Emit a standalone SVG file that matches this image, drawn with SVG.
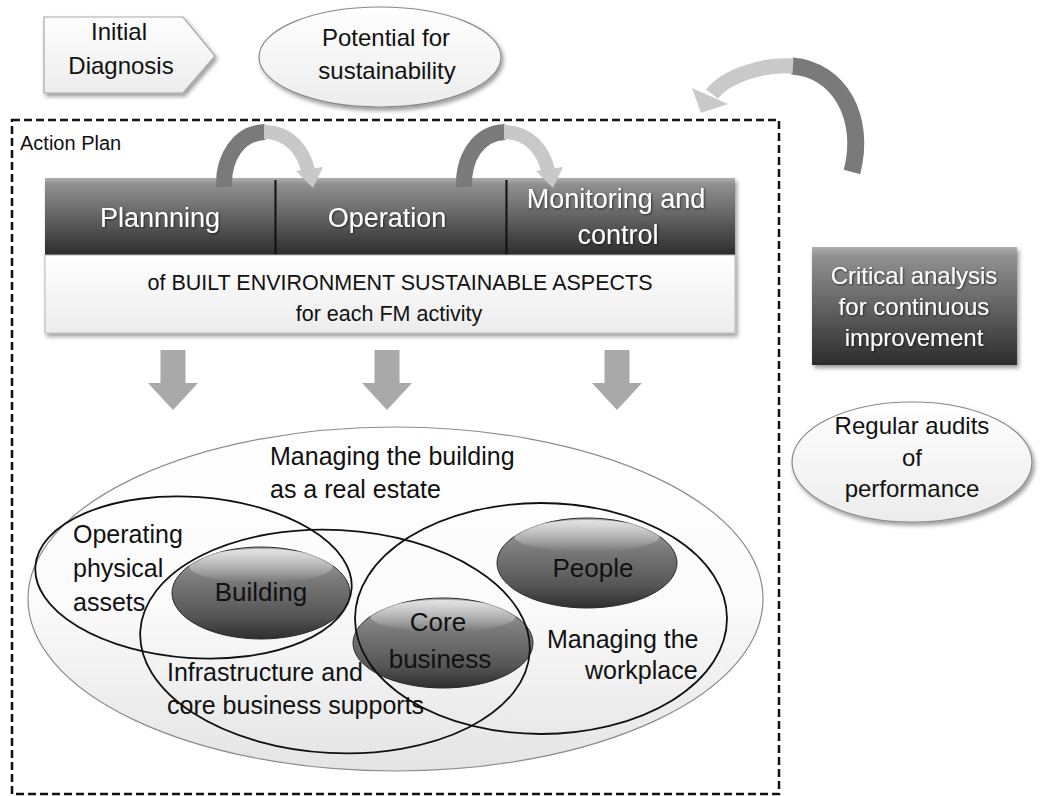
<svg xmlns="http://www.w3.org/2000/svg" width="1040" height="796" viewBox="0 0 1040 796">
  <style>
    text { font-family: "Liberation Sans", Arial, sans-serif; fill: #111; }
    .w { fill: #ffffff; }
    .c { text-anchor: middle; }
    .f24 { font-size: 24px; }
    .f25 { font-size: 25px; }
    .f27 { font-size: 27px; }
    .venn { fill: none; stroke: #111; stroke-width: 1.8; }
    .down { fill: #a9a9a9; }
  </style>
  <defs>
    <linearGradient id="darkG" x1="0" y1="0" x2="0" y2="1">
      <stop offset="0" stop-color="#b0b0b0"/>
      <stop offset="0.08" stop-color="#909090"/>
      <stop offset="0.55" stop-color="#5e5e5e"/>
      <stop offset="1" stop-color="#2c2c2c"/>
    </linearGradient>
    <linearGradient id="lightG" x1="0" y1="0" x2="0" y2="1">
      <stop offset="0" stop-color="#ffffff"/>
      <stop offset="1" stop-color="#ececec"/>
    </linearGradient>
    <linearGradient id="bigG" x1="0" y1="0" x2="0" y2="1">
      <stop offset="0" stop-color="#ffffff"/>
      <stop offset="0.5" stop-color="#fbfbfb"/>
      <stop offset="1" stop-color="#e4e4e4"/>
    </linearGradient>
    <linearGradient id="ballG" x1="0" y1="0" x2="0" y2="1">
      <stop offset="0" stop-color="#a8a8a8"/>
      <stop offset="0.35" stop-color="#7a7a7a"/>
      <stop offset="0.75" stop-color="#565656"/>
      <stop offset="1" stop-color="#2e2e2e"/>
    </linearGradient>
    <linearGradient id="gloss" x1="0" y1="0" x2="0" y2="1">
      <stop offset="0" stop-color="#ffffff" stop-opacity="0.7"/>
      <stop offset="1" stop-color="#ffffff" stop-opacity="0"/>
    </linearGradient>
    <filter id="sh" x="-10%" y="-10%" width="125%" height="140%">
      <feDropShadow dx="2" dy="3" stdDeviation="2" flood-color="#000" flood-opacity="0.4"/>
    </filter>
    <filter id="tsh" x="-5%" y="-20%" width="115%" height="150%">
      <feDropShadow dx="1" dy="1" stdDeviation="0.8" flood-color="#000" flood-opacity="0.6"/>
    </filter>
  </defs>

  <rect width="1040" height="796" fill="#ffffff"/>

  <!-- Initial Diagnosis -->
  <g id="initial-diagnosis">
    <polygon points="44,17 183,17 215,56 183,93 44,93" fill="url(#lightG)" stroke="#a8a8a8" stroke-width="1.2" filter="url(#sh)"/>
    <text class="c f24" x="119" y="40">Initial</text>
    <text class="c f24" x="121" y="74">Diagnosis</text>
  </g>

  <!-- Potential for sustainability -->
  <g id="potential">
    <ellipse cx="380" cy="57" rx="121" ry="50" fill="url(#lightG)" stroke="#8a8a8a" stroke-width="1.2" filter="url(#sh)"/>
    <text class="c f24" x="386" y="46">Potential for</text>
    <text class="c f24" x="387" y="79">sustainability</text>
  </g>

  <!-- Action plan frame -->
  <g id="action-plan">
    <rect x="12" y="120" width="767" height="674" fill="none" stroke="#111" stroke-width="2.5" stroke-dasharray="8,4"/>
    <text x="20" y="150" style="font-size:20px">Action Plan</text>
  </g>

  <!-- Phase bar -->
  <g id="planning">
    <rect x="45" y="178" width="230" height="77" fill="url(#darkG)" filter="url(#sh)"/>
    <text class="c f27 w" x="160" y="227" filter="url(#tsh)">Plannning</text>
  </g>
  <g id="operation">
    <rect x="275" y="178" width="231" height="77" fill="url(#darkG)" filter="url(#sh)"/>
    <line x1="275.5" y1="180" x2="275.5" y2="255" stroke="#111" stroke-width="2"/>
    <text class="c f27 w" x="387" y="227" filter="url(#tsh)">Operation</text>
  </g>
  <g id="monitoring">
    <rect x="506" y="178" width="229" height="77" fill="url(#darkG)" filter="url(#sh)"/>
    <line x1="506.5" y1="180" x2="506.5" y2="255" stroke="#111" stroke-width="2"/>
    <text class="c f27 w" x="616" y="208" filter="url(#tsh)">Monitoring and</text>
    <text class="c f27 w" x="618" y="244" filter="url(#tsh)">control</text>
  </g>

  <g id="built-environment">
    <rect x="45" y="255" width="690" height="78" fill="url(#lightG)" stroke="#b8b8b8" stroke-width="1" filter="url(#sh)"/>
    <text class="c" x="400" y="290" style="font-size:21.5px">of BUILT ENVIRONMENT SUSTAINABLE ASPECTS</text>
    <text class="c" x="389" y="321" style="font-size:21.5px">for each FM activity</text>
  </g>

  <!-- Critical analysis -->
  <g id="critical-analysis">
    <rect x="812" y="247" width="205" height="118" fill="url(#darkG)" filter="url(#sh)"/>
    <text class="c f24 w" x="914" y="284" filter="url(#tsh)">Critical analysis</text>
    <text class="c f24 w" x="914" y="315" filter="url(#tsh)">for continuous</text>
    <text class="c f24 w" x="914" y="346" filter="url(#tsh)">improvement</text>
  </g>

  <!-- Regular audits -->
  <g id="regular-audits">
    <ellipse cx="912" cy="462" rx="120" ry="60" fill="url(#lightG)" stroke="#8a8a8a" stroke-width="1.2" filter="url(#sh)"/>
    <text class="c f24" x="912" y="434">Regular audits</text>
    <text class="c f24" x="912" y="466">of</text>
    <text class="c f24" x="912" y="497">performance</text>
  </g>

  <!-- Venn diagram -->
  <g id="real-estate">
    <ellipse cx="395.5" cy="599" rx="367.5" ry="172" fill="url(#bigG)" stroke="#8c8c8c" stroke-width="1.2"/>
    <text class="f25" x="270" y="465">Managing the building</text>
    <text class="f25" x="270" y="498">as a real estate</text>
  </g>
  <g id="building">
    <ellipse cx="261" cy="593" rx="89" ry="46" fill="url(#ballG)" stroke="#2a2a2a" stroke-width="1"/>
    <ellipse cx="261" cy="566" rx="72" ry="17" fill="url(#gloss)"/>
    <text class="c" x="261" y="601" style="font-size:26px">Building</text>
  </g>
  <g id="people">
    <ellipse cx="587" cy="563" rx="90" ry="45" fill="url(#ballG)" stroke="#2a2a2a" stroke-width="1"/>
    <ellipse cx="587" cy="536" rx="73" ry="16" fill="url(#gloss)"/>
    <text class="c" x="593" y="577" style="font-size:26px">People</text>
  </g>
  <g id="core-business">
    <ellipse cx="443" cy="643" rx="90" ry="45" fill="url(#ballG)" stroke="#2a2a2a" stroke-width="1"/>
    <ellipse cx="443" cy="616" rx="73" ry="16" fill="url(#gloss)"/>
    <text class="c" x="438" y="631" style="font-size:26px">Core</text>
    <text class="c" x="440" y="668" style="font-size:26px">business</text>
  </g>
  <g id="operating-assets">
    <ellipse class="venn" cx="193.5" cy="577.5" rx="158.5" ry="80.5" transform="rotate(4 193.5 577.5)"/>
    <text class="f25" x="73" y="543">Operating</text>
    <text class="f25" x="73" y="577">physical</text>
    <text class="f25" x="73" y="611">assets</text>
  </g>
  <g id="infrastructure">
    <ellipse class="venn" cx="335" cy="641.5" rx="195" ry="111.5" transform="rotate(3 335 641.5)"/>
    <text class="f25" x="167" y="681">Infrastructure and</text>
    <text class="f25" x="167" y="714">core business supports</text>
  </g>
  <g id="workplace">
    <ellipse class="venn" cx="541" cy="618.5" rx="186" ry="115.5"/>
    <text class="f25" x="547" y="648">Managing the</text>
    <text class="f25" x="585" y="679">workplace</text>
  </g>

  <!-- Connectors -->
  <g id="connectors">
    <!-- Planning -> Operation -->
    <path d="M224,187 C223,158 238,133 265,132" fill="none" stroke="#7a7a7a" stroke-width="16"/>
    <path d="M264,132 C289,132 303,150 308,170" fill="none" stroke="#c8c8c8" stroke-width="14"/>
    <polygon points="296,171 323,167 313,188" fill="#c8c8c8"/>
    <!-- Operation -> Monitoring -->
    <path d="M464,187 C463,158 478,133 505,132" fill="none" stroke="#7a7a7a" stroke-width="16"/>
    <path d="M504,132 C529,132 543,150 548,170" fill="none" stroke="#c8c8c8" stroke-width="14"/>
    <polygon points="536,171 563,167 553,188" fill="#c8c8c8"/>
    <!-- Continuous improvement loop -->
    <path d="M852,172 C866,118 840,70 792,66" fill="none" stroke="#7a7a7a" stroke-width="17"/>
    <path d="M793,66 C762,64 726,76 712,94" fill="none" stroke="#c9c9c9" stroke-width="15"/>
    <polygon points="692,88 728,104 701,113" fill="#c9c9c9"/>
    <!-- Down arrows -->
    <polygon class="down" points="160.5,350 185.5,350 185.5,383 198,383 173,410 148,383 160.5,383"/>
    <polygon class="down" points="374.5,350 399.5,350 399.5,383 412,383 387,410 362,383 374.5,383"/>
    <polygon class="down" points="604.5,350 629.5,350 629.5,383 642,383 617,410 592,383 604.5,383"/>
  </g>
</svg>
